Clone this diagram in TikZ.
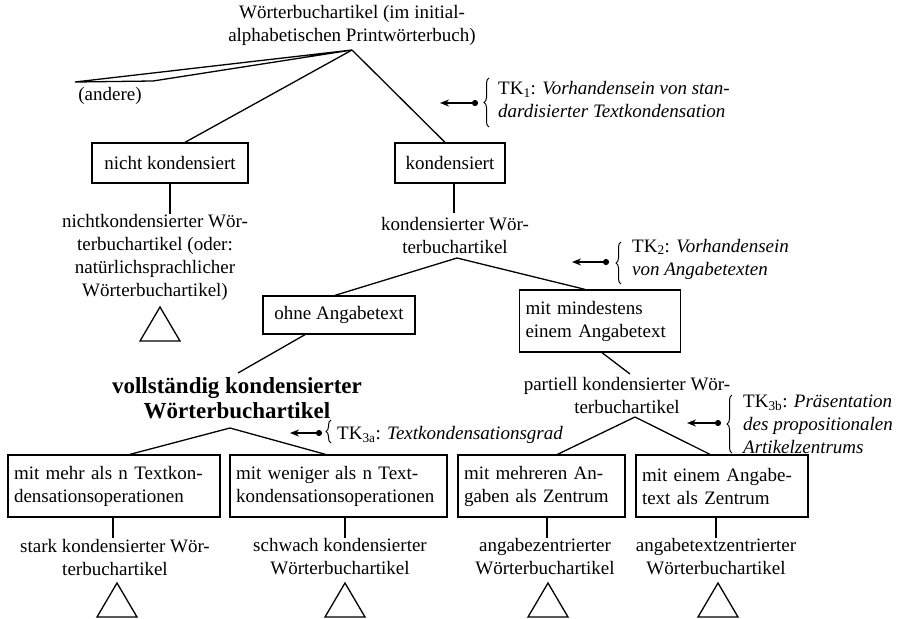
\documentclass[tikz,border=0pt]{standalone}
\usepackage{fontspec}
\setmainfont{Liberation Serif}
\usetikzlibrary{arrows.meta,decorations.pathreplacing}
\begin{document}
\begin{tikzpicture}[x=1pt,y=-1pt,
  font=\fontsize{19}{23}\selectfont,
  every node/.style={inner sep=0pt},
  ln/.style={line width=1.3pt},
  box/.style={draw, line width=1.3pt, inner xsep=6pt},
  txt/.style={align=center},
  ann/.style={align=left, anchor=west, font=\fontsize{19}{23}\selectfont},
  tkarrow/.style={line width=2pt, {Stealth[length=9pt,width=7pt]}-{Circle[length=6pt]}},
  brc/.style={decorate, decoration={brace, amplitude=5pt}, line width=1pt}
]
\useasboundingbox[fill=white] (0,0) rectangle (898,619);

% top
\node[txt] (top) at (352,25) {Wörterbuchartikel (im initial-\\alphabetischen Printwörterbuch)};
\coordinate (ap1) at (352,50);
\coordinate (a1) at (75,82);
\coordinate (a2) at (153,81);
\node (andere) at (110,96) {(andere)};
\draw[ln] (a1) -- (ap1) -- (a2) -- cycle;

\node[box, minimum width=156pt, minimum height=40pt] (nk) at (170,163) {nicht kondensiert};
\node[box, minimum width=110pt, minimum height=40pt] (k) at (450,163) {kondensiert};
\draw[ln] (ap1) -- ([xshift=15pt]nk.north);
\draw[ln] (ap1) -- ([xshift=-5pt]k.north);

% TK1
\coordinate (tk1a) at (440,103);
\coordinate (tk1d) at (478,103);
\draw[tkarrow] (tk1a) -- (tk1d);
\draw[brc] (489,127) -- (489,78);
\node[ann] (tk1) at (498,100) {TK\textsubscript{1}: \textit{Vorhandensein von stan-}\\\textit{dardisierter Textkondensation}};

% nicht kondensiert branch
\node[txt] (tnk) at (155,257) {nichtkondensierter Wör-\\terbuchartikel (oder:\\natürlichsprachlicher\\Wörterbuchartikel)};
\coordinate (nkv) at (170,214);
\draw[ln] (nk.south) -- (nkv);
\draw[ln] (160,307) -- (140,341) -- (180,341) -- cycle;

% kondensiert branch
\coordinate (kv) at (454,213);
\draw[ln] ([xshift=4pt]k.south) -- (kv);
\node[txt] (tk) at (455,235) {kondensierter Wör-\\terbuchartikel};
\coordinate (ap2) at (457,258);

\node[box, minimum width=152pt, minimum height=38pt] (ohne) at (339,315) {ohne Angabetext};
\node[box, text width=149pt, minimum height=62pt, align=left] (mind) at (600,321) {mit mindestens\\einem Angabetext};
\draw[ln] (ap2) -- ([xshift=-4pt]ohne.north);
\draw[ln] (ap2) -- ([xshift=-15pt]mind.north);

% TK2
\coordinate (tk2a) at (572,262);
\coordinate (tk2d) at (609,262);
\draw[tkarrow] (tk2a) -- (tk2d);
\draw[brc] (621,284) -- (621,242);
\node[ann] (tk2) at (632,259) {TK\textsubscript{2}: \textit{Vorhandensein}\\\textit{von Angabetexten}};

% vollstaendig
\node[txt, font=\fontsize{23}{25}\selectfont\bfseries] (vk) at (237,398) {vollständig kondensierter\\Wörterbuchartikel};
\coordinate (vkt) at (238,373);
\draw[ln] ([xshift=-34pt]ohne.south) -- (vkt);
\coordinate (ap3) at (230,428);

% partiell
\node[txt] (pk) at (627,395) {partiell kondensierter Wör-\\terbuchartikel};
\coordinate (pkt) at (630,374);
\draw[ln] ([xshift=2pt]mind.south) -- (pkt);
\coordinate (ap4) at (635,417);

% TK3a
\coordinate (tk3a) at (290,433);
\coordinate (tk3d) at (322,433);
\draw[tkarrow] (tk3a) -- (tk3d);
\draw[brc] (331,443) -- (331,420);
\node[ann] (tk3) at (337,435) {TK\textsubscript{3a}: \textit{Textkondensationsgrad}};

% TK3b
\coordinate (tk3ba) at (687,423);
\coordinate (tk3bd) at (721,423);
\draw[tkarrow] (tk3ba) -- (tk3bd);
\draw[brc] (732,453) -- (732,395);
\node[ann] (tk3b) at (743,424) {TK\textsubscript{3b}: \textit{Präsentation}\\\textit{des propositionalen}\\\textit{Artikelzentrums}};

% bottom boxes
\node[box, text width=200pt, minimum height=62pt, align=left] (b1) at (114,486) {mit mehr als n Textkon-\\densationsoperationen};
\node[box, text width=205pt, minimum height=62pt, align=left] (b2) at (338.5,486) {mit weniger als n Text-\\kondensationsoperationen};
\node[box, text width=155pt, minimum height=62pt, align=left] (b3) at (541.5,486) {mit mehreren An-\\gaben als Zentrum};
\node[box, text width=160pt, minimum height=62pt, align=left] (b4) at (722,486) {mit einem Angabe-\\text als Zentrum};

\draw[ln] (ap3) -- ([xshift=16pt]b1.north);
\draw[ln] (ap3) -- ([xshift=-13pt]b2.north);
\draw[ln] (ap4) -- ([xshift=16pt]b3.north);
\draw[ln] (ap4) -- ([xshift=-12pt]b4.north);

% leaves
\coordinate (v1) at (113,538);
\coordinate (v2) at (345,538);
\coordinate (v3) at (547,538);
\coordinate (v4) at (716,538);
\draw[ln] ([xshift=-1pt]b1.south) -- (v1);
\draw[ln] ([xshift=6.5pt]b2.south) -- (v2);
\draw[ln] ([xshift=5.5pt]b3.south) -- (v3);
\draw[ln] ([xshift=-6pt]b4.south) -- (v4);

\node[txt] (l1) at (115,557) {stark kondensierter Wör-\\terbuchartikel};
\node[txt] (l2) at (340,557) {schwach kondensierter\\Wörterbuchartikel};
\node[txt] (l3) at (545,557) {angabezentrierter\\Wörterbuchartikel};
\node[txt] (l4) at (716,557) {angabetextzentrierter\\Wörterbuchartikel};

\foreach \cx in {117,345,548,718}{
  \draw[ln] (\cx,583) -- (\cx-20,617) -- (\cx+20,617) -- cycle;
}
\end{tikzpicture}
\end{document}
